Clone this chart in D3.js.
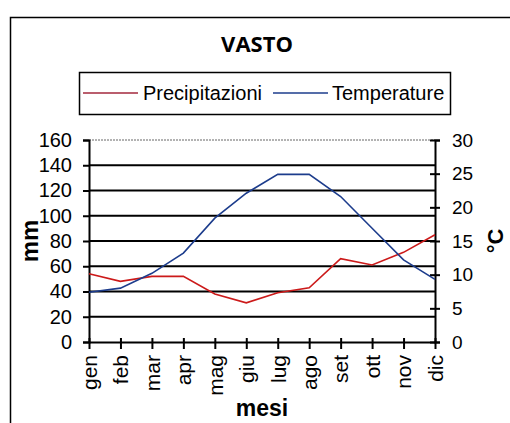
<!DOCTYPE html>
<html>
<head>
<meta charset="utf-8">
<script src="https://cdn.jsdelivr.net/npm/d3@7"></script>
<style>
  body { margin: 0; background: #fff; }
  text { font-family: "Liberation Sans", Arial, sans-serif; }
</style>
</head>
<body>
<div id="chart"></div>
<script>
// data
var mesi = ["gen","feb","mar","apr","mag","giu","lug","ago","set","ott","nov","dic"];
var precipitazioni = [54, 48, 52, 52, 38, 31, 39, 43, 66, 61, 71, 85];
var temperature = [7.4, 8.0, 10.2, 13.2, 18.4, 22.1, 24.9, 24.9, 21.6, 16.9, 12.2, 9.3];
var mmTicks = [0, 20, 40, 60, 80, 100, 120, 140, 160];
var cTicks = [0, 5, 10, 15, 20, 25, 30];

var W = 510, H = 423;
var pLeft = 89, pRight = 435, pTop = 140, pBottom = 342;
var red = "#cc1a1a", blue = "#1c3c8c";

var svg = d3.select("#chart").append("svg")
  .attr("width", W).attr("height", H);

// outer frame
svg.append("rect")
  .attr("x", 10.5).attr("y", 17.5)
  .attr("width", 520).attr("height", 430)
  .attr("fill", "none").attr("stroke", "#000").attr("stroke-width", 1.5);

// title
svg.append("text")
  .attr("x", 257).attr("y", 52)
  .attr("text-anchor", "middle")
  .style("font-family", "'Open Sans', sans-serif")
  .style("font-weight", "bold").style("font-size", "22px")
  .text("VASTO");

// scales
var x = d3.scalePoint().domain(mesi).range([pLeft, pRight]);
var yL = d3.scaleLinear().domain([0, 160]).range([pBottom, pTop]);
var yR = d3.scaleLinear().domain([0, 30]).range([pBottom, pTop]);

// gridlines
svg.append("g").selectAll("line")
  .data(mmTicks.filter(function(d){ return d > 0; }))
  .enter().append("line")
  .attr("x1", pLeft).attr("x2", pRight)
  .attr("y1", function(d){ return yL(d); })
  .attr("y2", function(d){ return yL(d); })
  .attr("stroke", function(d){ return d == 160 ? "#666" : "#000"; })
  .attr("stroke-width", function(d){ return d == 160 ? 1 : 2; })
  .attr("stroke-dasharray", function(d){ return d == 160 ? "2,1" : null; });

// left axis
var axL = svg.append("g").attr("transform", "translate(" + pLeft + ",0)")
  .call(d3.axisLeft(yL).tickValues(mmTicks).tickSize(6).tickPadding(11));
axL.select(".domain").attr("stroke-width", 2);
axL.selectAll(".tick line").attr("stroke-width", 2);
axL.selectAll("text").style("font-size", "20px").attr("fill", "#000")
  .style("font-family", "'Liberation Sans', Arial, sans-serif");

// right axis
var axR = svg.append("g").attr("transform", "translate(" + pRight + ",0)")
  .call(d3.axisRight(yR).tickValues(cTicks).tickSize(5).tickPadding(12));
axR.select(".domain").attr("stroke-width", 2);
axR.selectAll(".tick line").attr("x1", -5).attr("stroke-width", 2);
axR.selectAll("text").style("font-size", "19px").attr("fill", "#000")
  .style("font-family", "'Liberation Sans', Arial, sans-serif");

// bottom axis
var axB = svg.append("g").attr("transform", "translate(0," + pBottom + ")")
  .call(d3.axisBottom(x).tickSize(7).tickSizeOuter(0));
axB.select(".domain").attr("stroke-width", 2);
axB.selectAll(".tick line").attr("y1", -4).attr("stroke-width", 2);
axB.selectAll("text")
  .style("font-size", "21px").attr("fill", "#000")
  .style("font-family", "'Liberation Sans', Arial, sans-serif")
  .attr("transform", "rotate(-90)")
  .attr("x", -13).attr("y", 0).attr("dy", "0.35em")
  .attr("text-anchor", "end");

// lines
var lineP = d3.line()
  .x(function(d, i){ return x(mesi[i]); })
  .y(function(d){ return yL(d); });
var lineT = d3.line()
  .x(function(d, i){ return x(mesi[i]); })
  .y(function(d){ return yR(d); });

svg.append("path").datum(precipitazioni)
  .attr("d", lineP).attr("fill", "none")
  .attr("stroke", red).attr("stroke-width", 1.6);
svg.append("path").datum(temperature)
  .attr("d", lineT).attr("fill", "none")
  .attr("stroke", blue).attr("stroke-width", 1.6);

// axis titles
svg.append("text")
  .attr("transform", "translate(38,241) rotate(-90)")
  .attr("text-anchor", "middle")
  .style("font-weight", "bold").style("font-size", "24px")
  .text("mm");
svg.append("text")
  .attr("transform", "translate(503,241) rotate(-90)")
  .attr("text-anchor", "middle")
  .style("font-weight", "bold").style("font-size", "22px")
  .text("°C");
svg.append("text")
  .attr("x", 262).attr("y", 416)
  .attr("text-anchor", "middle")
  .style("font-weight", "bold").style("font-size", "23px")
  .text("mesi");

// legend
var leg = svg.append("g");
leg.append("rect")
  .attr("x", 79.5).attr("y", 72.5)
  .attr("width", 371).attr("height", 42)
  .attr("fill", "#fff").attr("stroke", "#000").attr("stroke-width", 1.5);
var items = [
  {name: "Precipitazioni", color: "#a3283c", x: 83, tx: 143},
  {name: "Temperature", color: blue, x: 273, tx: 332}
];
items.forEach(function(it) {
  leg.append("line")
    .attr("x1", it.x).attr("x2", it.x + 55)
    .attr("y1", 93).attr("y2", 93)
    .attr("stroke", it.color).attr("stroke-width", 1.5);
  leg.append("text")
    .attr("x", it.tx).attr("y", 100)
    .style("font-size", "20px")
    .text(it.name);
});
</script>
</body>
</html>
